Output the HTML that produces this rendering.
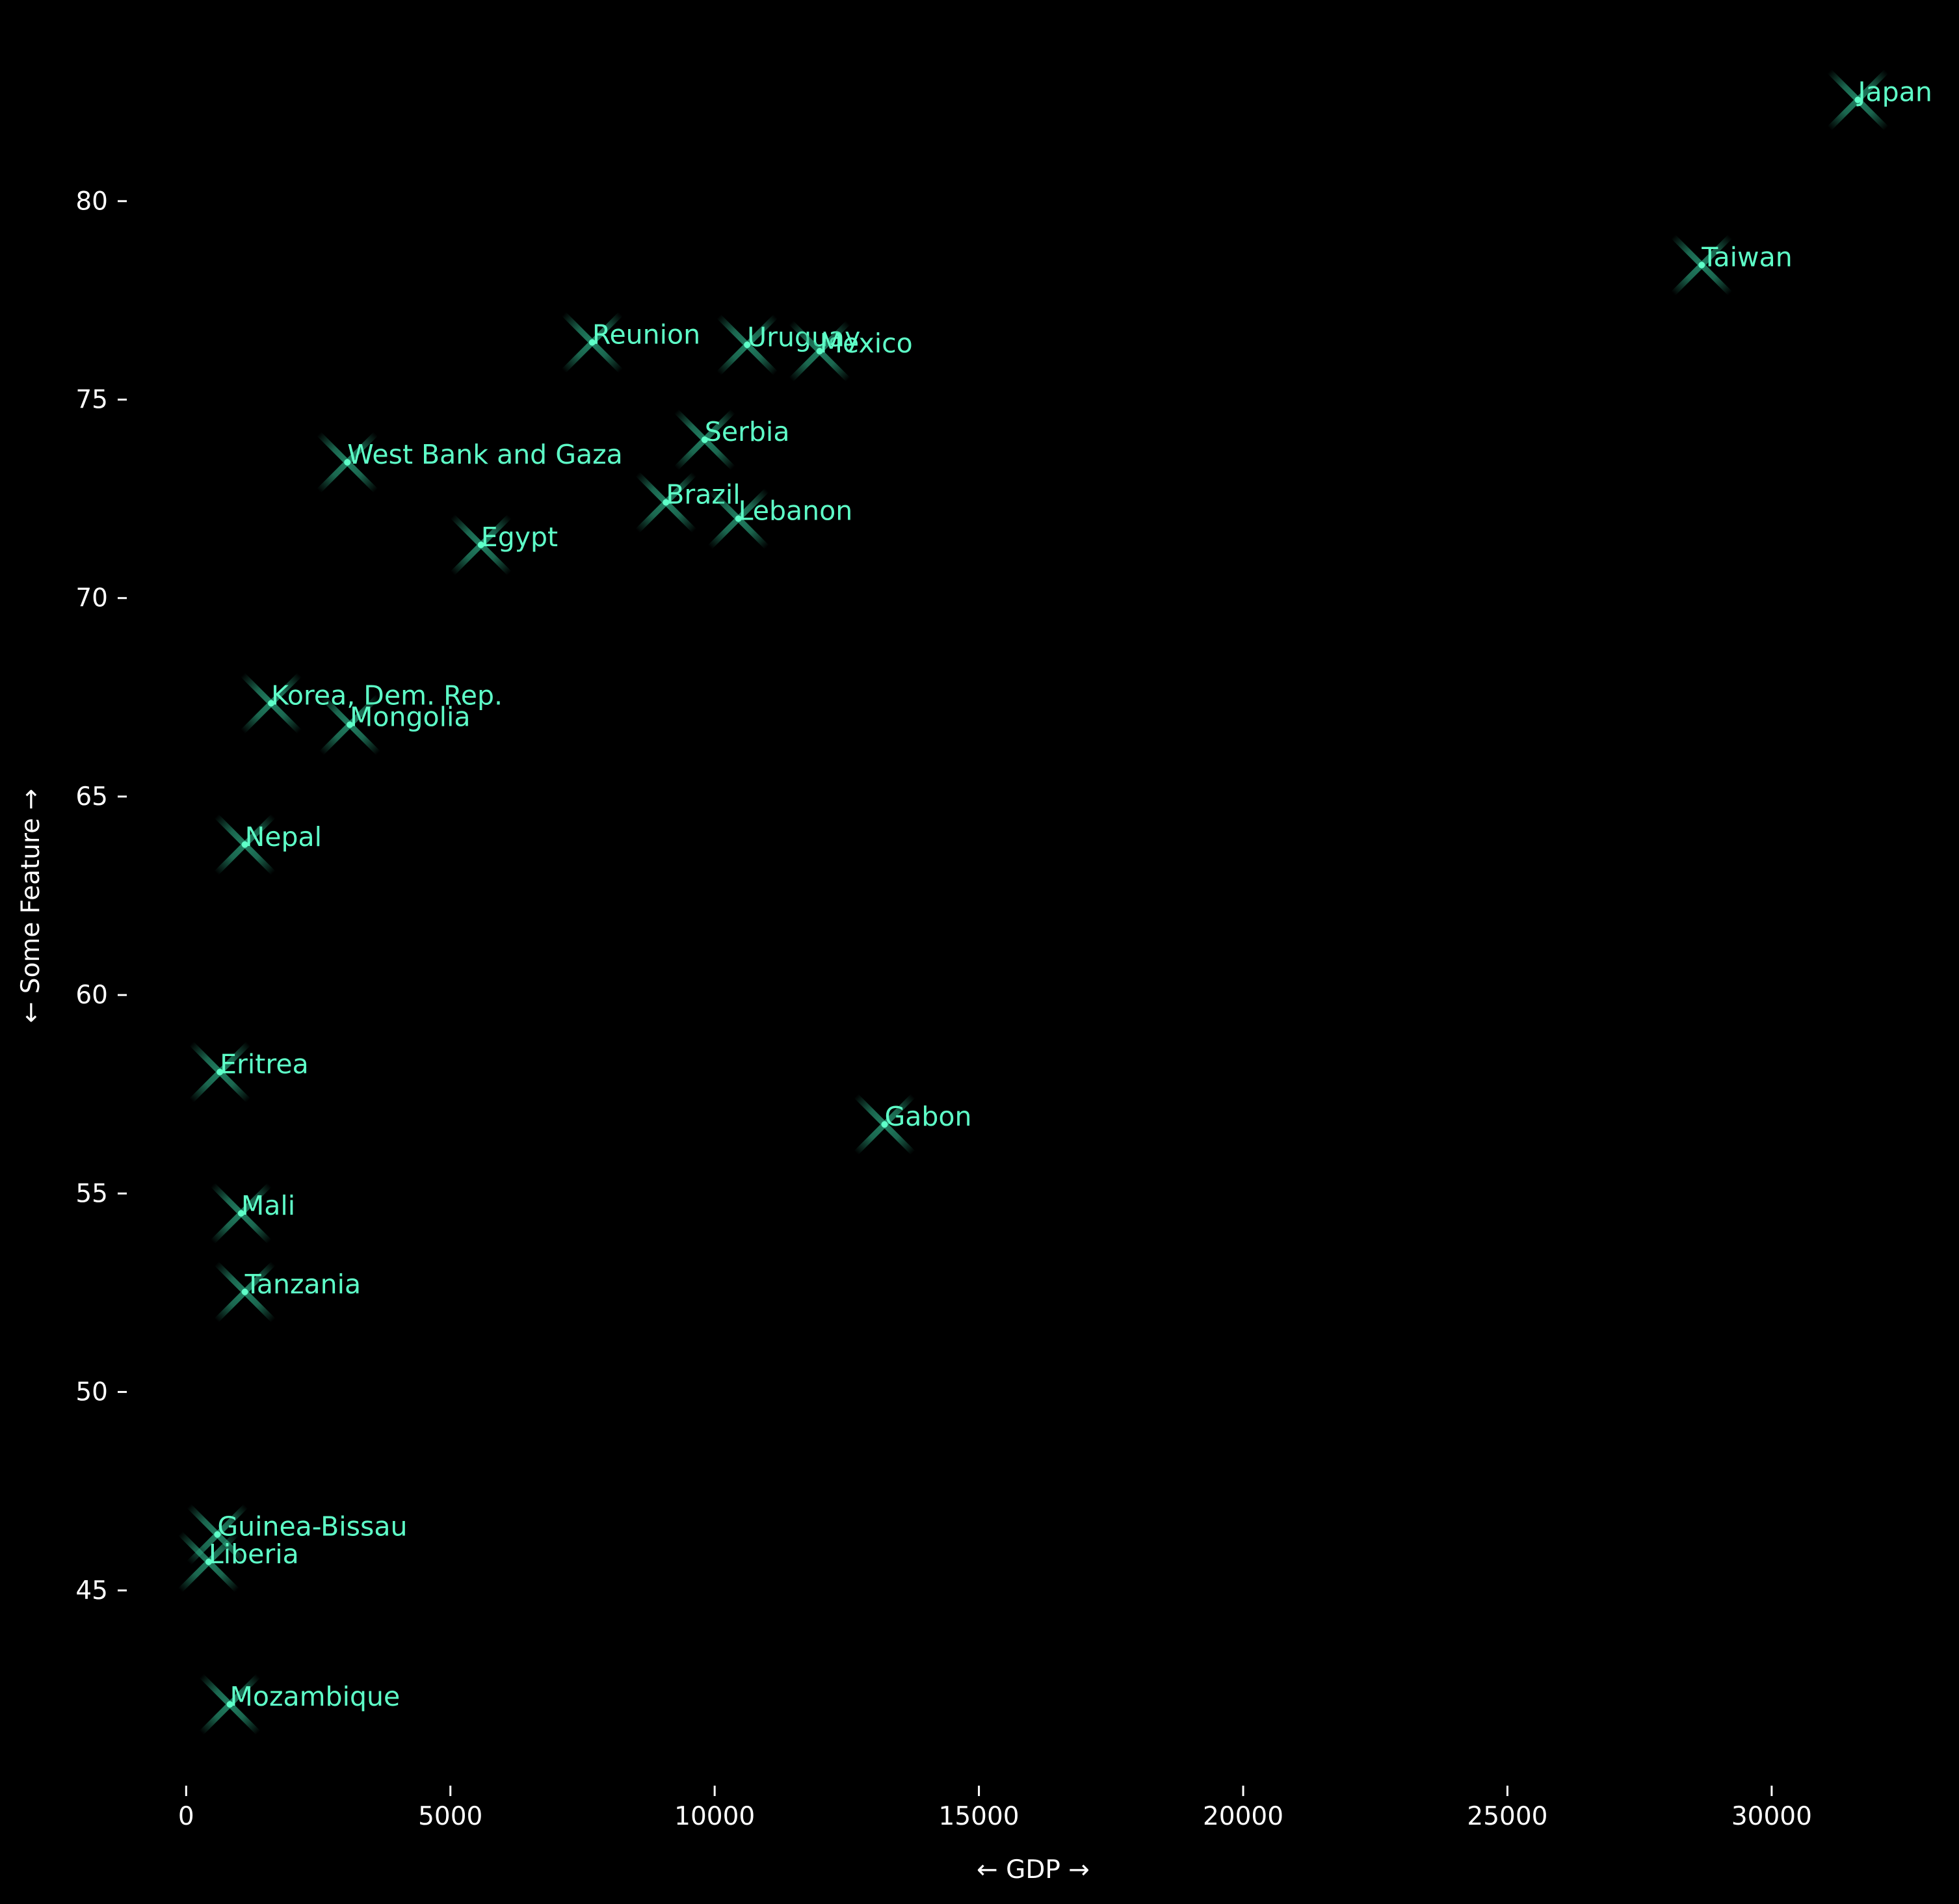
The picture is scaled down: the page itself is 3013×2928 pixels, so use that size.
<!DOCTYPE html>
<html><head><meta charset="utf-8"><style>
html,body{margin:0;padding:0;background:#000;}
svg{display:block;}
text{font-family:"DejaVu Sans","Liberation Sans",sans-serif;}
</style></head><body>
<svg id="chart" width="3013" height="2928" viewBox="0 0 3013 2928" xmlns="http://www.w3.org/2000/svg">
<defs>
<radialGradient id="fade" cx="0.5" cy="0.5" r="0.5">
<stop offset="0" stop-color="#fff" stop-opacity="1"/>
<stop offset="0.45" stop-color="#fff" stop-opacity="0.8"/>
<stop offset="1" stop-color="#fff" stop-opacity="0"/>
</radialGradient>
<mask id="m" maskContentUnits="objectBoundingBox"><rect x="0" y="0" width="1" height="1" fill="url(#fade)"/></mask>
</defs>
<rect width="3013" height="2928" fill="#000"/>
<g id="axes"></g>
<g id="marks"></g>
<text x="1589" y="2888" fill="#fff" font-size="39" text-anchor="middle">← GDP →</text>
<text x="0" y="0" fill="#fff" font-size="39" text-anchor="middle" transform="translate(60,1393) rotate(-90)">← Some Feature →</text>
</svg>
<script>
const countries=["Japan","Taiwan","Reunion","Uruguay","Mexico","Serbia","West Bank and Gaza","Brazil","Lebanon","Egypt","Korea, Dem. Rep.","Mongolia","Nepal","Eritrea","Gabon","Mali","Tanzania","Guinea-Bissau","Liberia","Mozambique"];
const gdp=[31631,28676,7683,10615,11986,9811,3050,9078,10449,5579,1608,3097,1111,638,13215,1040,1111,591,426,827];
const feature=[82.55,78.39,76.44,76.38,76.22,73.99,73.42,72.41,72.0,71.34,67.35,66.81,63.79,58.06,56.74,54.5,52.52,46.41,45.72,42.13];
const xTicks=[0,5000,10000,15000,20000,25000,30000];
const yTicks=[45,50,55,60,65,70,75,80];

const NS="http://www.w3.org/2000/svg";
function X(v){return 286.3+v*(2724.9-286.3)/30000;}
function Y(v){return 309.3+(80-v)*(2445.8-309.3)/35;}
function mk(tag,attrs,parent){const e=document.createElementNS(NS,tag);for(const k in attrs)e.setAttribute(k,attrs[k]);parent.appendChild(e);return e;}
const axes=document.getElementById('axes'),marks=document.getElementById('marks');
xTicks.forEach(t=>{
  const l=mk('line',{x1:X(t),x2:X(t),y1:2746,y2:2762,stroke:'#fff','stroke-width':3},axes);
  
  
  const tx=mk('text',{x:X(t),y:2806,fill:'#fff','font-size':39,'text-anchor':'middle'},axes);
  tx.textContent=t;
  
  
});
yTicks.forEach(t=>{
  const l=mk('line',{x1:181,x2:195,y1:Y(t),y2:Y(t),stroke:'#fff','stroke-width':3},axes);
  
  
  const tx=mk('text',{x:166,y:Y(t)+13,fill:'#fff','font-size':39,'text-anchor':'end'},axes);
  tx.textContent=t;
  
  
});
countries.forEach((c,i)=>{
  const px=X(gdp[i]),py=Y(feature[i]),r=62;
  const g=mk('g',{},marks);
  
  
  const gx=mk('g',{mask:'url(#m)'},g);
  mk('rect',{x:px-r,y:py-r,width:2*r,height:2*r,fill:'none',stroke:'none'},gx);
  mk('line',{x1:px-r,y1:py-r,x2:px+r,y2:py+r,stroke:'#2fb58c','stroke-width':9,'stroke-opacity':0.7},gx);
  mk('line',{x1:px-r,y1:py+r,x2:px+r,y2:py-r,stroke:'#2fb58c','stroke-width':9,'stroke-opacity':0.7},gx);
  mk('circle',{cx:px,cy:py,r:5,fill:'#5effc8'},g);
  const tx=mk('text',{x:px,y:py+2,fill:'#5effc8','font-size':41},g);
  tx.textContent=c;
  
  
});
</script>
</body></html>
